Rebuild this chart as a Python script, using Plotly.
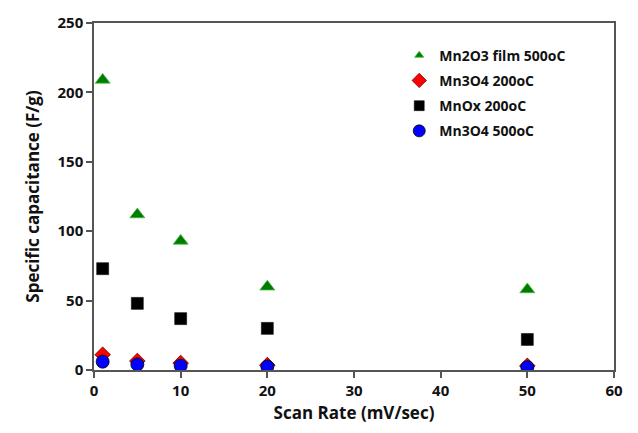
import plotly.graph_objects as go

scan_rate = [1, 5, 10, 20, 50]
mn2o3_film_500 = [209, 112, 93, 60, 58]
mn3o4_200 = [11, 6.5, 5, 3.5, 3]
mnox_200 = [73, 48, 37, 30, 22]
mn3o4_500 = [6, 4, 3, 2.5, 2]

series_names = ["Mn2O3 film 500oC", "Mn3O4 200oC", "MnOx 200oC", "Mn3O4 500oC"]
x_ticks = [0, 10, 20, 30, 40, 50, 60]
y_ticks = [0, 50, 100, 150, 200, 250]

font_family = "Open Sans"

styles = [
    dict(symbol="triangle-up", color="#007a00", line=dict(color="#3fbf3f", width=0.8)),
    dict(symbol="diamond", color="#ff0000", line=dict(color="#600000", width=0.8)),
    dict(symbol="square", color="#000000", line=dict(color="#000000", width=0.5)),
    dict(symbol="circle", color="#0000ff", line=dict(color="#000000", width=0.8)),
]
data_sizes = [13, 12, 12, 13]
legend_sizes = [8, 11, 10, 12]
values = [mn2o3_film_500, mn3o4_200, mnox_200, mn3o4_500]

fig = go.Figure()
for name, vals, st, sz in zip(series_names, values, styles, data_sizes):
    fig.add_trace(go.Scatter(
        x=scan_rate, y=vals, mode="markers", name=name, showlegend=False,
        marker=dict(size=sz, **st)))
for i, (name, st, sz) in enumerate(zip(series_names, styles, legend_sizes)):
    fig.add_trace(go.Scatter(
        x=[None], y=[None], mode="markers", name=name, legendgroup=f"g{i}",
        marker=dict(size=sz, **st)))

axis_common = dict(
    showline=True, linecolor="#555555", linewidth=1.5, mirror=True,
    showgrid=False, zeroline=False, ticks="outside", ticklen=6,
    tickcolor="#555555", tickwidth=1.5,
    tickfont=dict(family=font_family, size=15, color="#111111", weight="bold"),
)

fig.update_layout(
    width=638, height=433,
    margin=dict(l=94, r=24, t=15, b=63),
    paper_bgcolor="white", plot_bgcolor="white",
    font=dict(family=font_family, color="#111111"),
    xaxis=dict(range=[0, 60], tickvals=x_ticks,
               title=dict(text="<b>Scan Rate (mV/sec)</b>",
                          font=dict(family=font_family, size=17, color="#111111"),
                          standoff=8),
               **axis_common),
    yaxis=dict(range=[0, 250], tickvals=y_ticks,
               title=dict(text="<b>Specific capacitance (F/g)</b>",
                          font=dict(family=font_family, size=17, color="#111111"),
                          standoff=14),
               **axis_common),
    legend=dict(x=0.587, y=0.952, xanchor="left", yanchor="top",
                bgcolor="rgba(0,0,0,0)",
                font=dict(family=font_family, size=14, color="#111111", weight="bold"),
                itemsizing="trace", tracegroupgap=4, itemwidth=30),
    showlegend=True,
)

fig.write_html("out.html")
